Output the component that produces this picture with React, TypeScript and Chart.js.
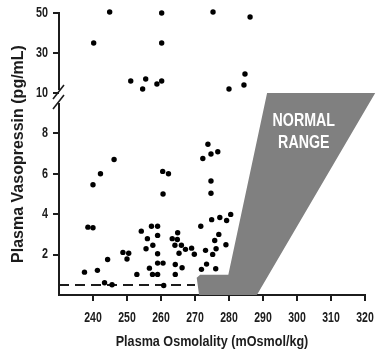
import React, { useEffect, useRef } from "react";
import { Chart, registerables } from "chart.js";

Chart.register(...registerables);

// Lower panel (0–10 pg/mL)
const lowX = [
  240.0, 242.2, 246.2, 260.5, 262.2, 260.6, 273.8, 272.3, 274.7, 276.7, 274.7, 274.7,
  238.5, 240.0, 237.5, 241.3, 244.3, 243.4, 245.6, 248.8, 250.5, 250.0, 252.9, 254.2,
  256.0, 257.2, 259.0, 259.0, 257.6, 255.6, 259.0, 256.6, 257.5, 259.0, 259.0, 260.6,
  260.8, 264.9, 263.3, 264.8, 264.1, 266.0, 267.2, 269.0, 269.8, 265.3, 264.2, 266.2,
  264.2, 271.7, 274.9, 277.3, 279.3, 280.5, 277.0, 275.8, 279.1, 276.2, 273.1, 275.2,
  273.4, 271.9, 276.1,
];
const lowY = [
  5.46, 6.0, 6.71, 6.12, 6.0, 5.0, 7.46, 6.76, 6.98, 7.09, 5.64, 5.04,
  3.36, 3.33, 1.13, 1.22, 1.76, 0.61, 0.51, 2.11, 2.07, 1.78, 1.02, 3.16,
  2.79, 3.4, 3.4, 2.95, 2.46, 2.29, 2.04, 1.33, 1.02, 1.02, 1.58, 1.58,
  0.47, 3.08, 2.79, 2.75, 2.46, 2.46, 2.26, 2.32, 2.02, 2.07, 1.51, 1.35,
  1.02, 3.4, 3.73, 3.84, 3.69, 3.99, 3.0, 2.7, 2.49, 2.29, 2.21, 2.01,
  1.53, 1.27, 1.3,
];

// Upper panel (10–50 pg/mL)
const highX = [244.9, 240.2, 260.2, 261.4, 260.2, 251.1, 255.5, 254.6, 258.8, 260.2, 275.3, 286.2, 284.7, 284.4, 280.0];
const highY = [50.5, 35, 50, 52, 35, 16, 17, 12, 14.5, 16, 50.5, 48, 19.5, 14, 12];

// Detection limit (dashed)
const limitX = [230, 270];
const limitY = [0.5, 0.5];

// Normal range polygon
const normalX = [271.2, 270.5, 271.5, 279.8, 291.2, 323, 288.2];
const normalY = [0, 0.85, 1.0, 1.0, 10, 10, 0];
const normalLabel = ["NORMAL", "RANGE"];
const normalLabelX = 302;
const normalLabelY = [8.6, 7.5];

const xTicks = [240, 250, 260, 270, 280, 290, 300, 310, 320];
const lowTicks = [2, 4, 6, 8];
const highTicks = [10, 30, 50];
const xTitle = "Plasma Osmolality (mOsmol/kg)";
const yTitle = "Plasma Vasopressin (pg/mL)";

const SANS = "'Liberation Sans', Arial, sans-serif";
const INK = "#1c1c1c";

function condensed(ctx: CanvasRenderingContext2D, text: string, x: number, y: number, align: CanvasTextAlign, sx: number) {
  ctx.save();
  ctx.translate(x, y);
  ctx.scale(sx, 1);
  ctx.textAlign = align;
  ctx.textBaseline = "middle";
  ctx.fillText(text, 0, 0);
  ctx.restore();
}

const extrasPlugin = {
  id: "extras",
  beforeDatasetsDraw(chart: any) {
    const { ctx } = chart;
    const xs = chart.scales.x;
    const ys = chart.scales.yLow;
    ctx.save();
    ctx.beginPath();
    normalX.forEach((v, i) => {
      const px = xs.getPixelForValue(v);
      const py = ys.getPixelForValue(normalY[i]);
      if (i === 0) ctx.moveTo(px, py);
      else ctx.lineTo(px, py);
    });
    ctx.closePath();
    ctx.fillStyle = "#808080";
    ctx.fill();
    ctx.fillStyle = "#ffffff";
    ctx.font = `bold 18px ${SANS}`;
    normalLabel.forEach((t, i) => {
      condensed(ctx, t, xs.getPixelForValue(normalLabelX), ys.getPixelForValue(normalLabelY[i]), "center", 0.79);
    });
    ctx.restore();
  },
  afterDraw(chart: any) {
    const { ctx, chartArea } = chart;
    const xs = chart.scales.x;
    const yl = chart.scales.yLow;
    const yh = chart.scales.yHigh;
    const ax = chartArea.left;
    ctx.save();
    ctx.strokeStyle = INK;
    ctx.lineWidth = 2;
    // axis lines with a break
    const join = yh.bottom;
    ctx.beginPath();
    ctx.moveTo(ax, yh.top - 1);
    ctx.lineTo(ax, join - 3);
    ctx.moveTo(ax, join + 10);
    ctx.lineTo(ax, yl.bottom + 1);
    ctx.stroke();
    ctx.lineWidth = 1.6;
    ctx.beginPath();
    ctx.moveTo(ax - 6, join + 6);
    ctx.lineTo(ax + 5, join - 8);
    ctx.moveTo(ax - 6, join + 16);
    ctx.lineTo(ax + 5, join + 2);
    ctx.stroke();

    // tick labels (condensed face)
    ctx.fillStyle = INK;
    ctx.font = `bold 14px ${SANS}`;
    xTicks.forEach((v) => condensed(ctx, String(v), xs.getPixelForValue(v), xs.top + 23, "center", 0.75));
    lowTicks.forEach((v) => condensed(ctx, String(v), ax - 11, yl.getPixelForValue(v), "right", 0.77));
    highTicks.forEach((v) => condensed(ctx, String(v), ax - 11, yh.getPixelForValue(v), "right", 0.77));

    // x title
    ctx.font = `bold 15px ${SANS}`;
    condensed(ctx, xTitle, (chartArea.left + chartArea.right) / 2, 342, "center", 0.84);

    // y title
    ctx.font = `bold 16px ${SANS}`;
    ctx.textAlign = "center";
    ctx.textBaseline = "middle";
    ctx.translate(19, (yh.top + yl.bottom) / 2);
    ctx.rotate(-Math.PI / 2);
    ctx.fillText(yTitle, 0, 0);
    ctx.restore();
  },
};

export default function App() {
  const ref = useRef<HTMLCanvasElement | null>(null);
  useEffect(() => {
    if (!ref.current) return;
    const grid = { drawOnChartArea: false, drawTicks: true, tickLength: 6, lineWidth: 2, color: INK };
    const chart = new Chart(ref.current, {
      type: "scatter",
      data: {
        datasets: [
          {
            label: "low",
            data: lowX.map((x, i) => ({ x, y: lowY[i] })),
            yAxisID: "yLow",
            pointRadius: 2.7,
            pointBorderWidth: 0,
            backgroundColor: "#000",
            borderColor: "#000",
            clip: false as any,
          },
          {
            label: "high",
            data: highX.map((x, i) => ({ x, y: highY[i] })),
            yAxisID: "yHigh",
            pointRadius: 2.7,
            pointBorderWidth: 0,
            backgroundColor: "#000",
            borderColor: "#000",
            clip: false as any,
          },
          {
            label: "limit",
            type: "line" as any,
            data: limitX.map((x, i) => ({ x, y: limitY[i] })),
            yAxisID: "yLow",
            borderColor: INK,
            borderWidth: 2,
            borderDash: [10, 6],
            pointRadius: 0,
            fill: false,
          },
        ],
      },
      options: {
        animation: false,
        responsive: false,
        events: [],
        layout: { padding: { left: 0, top: 13, right: 11, bottom: 0 } },
        plugins: { legend: { display: false }, tooltip: { enabled: false } },
        scales: {
          x: {
            type: "linear",
            min: 230,
            max: 320,
            afterBuildTicks: (s: any) => {
              s.ticks = xTicks.map((v) => ({ value: v }));
            },
            afterFit: (s: any) => {
              s.height = 56;
            },
            ticks: { display: false },
            grid,
            border: { display: true, color: INK, width: 2 },
          },
          yLow: {
            type: "linear",
            position: "left",
            stack: "v",
            stackWeight: 202,
            min: 0,
            max: 10,
            afterBuildTicks: (s: any) => {
              s.ticks = lowTicks.map((v) => ({ value: v }));
            },
            afterFit: (s: any) => {
              s.width = 59;
            },
            ticks: { display: false },
            grid,
            border: { display: false },
          },
          yHigh: {
            type: "linear",
            position: "left",
            stack: "v",
            stackWeight: 80,
            min: 10,
            max: 50,
            afterBuildTicks: (s: any) => {
              s.ticks = highTicks.map((v) => ({ value: v }));
            },
            afterFit: (s: any) => {
              s.width = 59;
            },
            ticks: { display: false },
            grid,
            border: { display: false },
          },
        },
      } as any,
      plugins: [extrasPlugin],
    });
    return () => chart.destroy();
  }, []);
  return (
    <div style={{ position: "fixed", left: 0, top: 0, width: 376, height: 351, background: "#fff" }}>
      <canvas ref={ref} width={376} height={351} style={{ display: "block", width: 376, height: 351 }} />
    </div>
  );
}
